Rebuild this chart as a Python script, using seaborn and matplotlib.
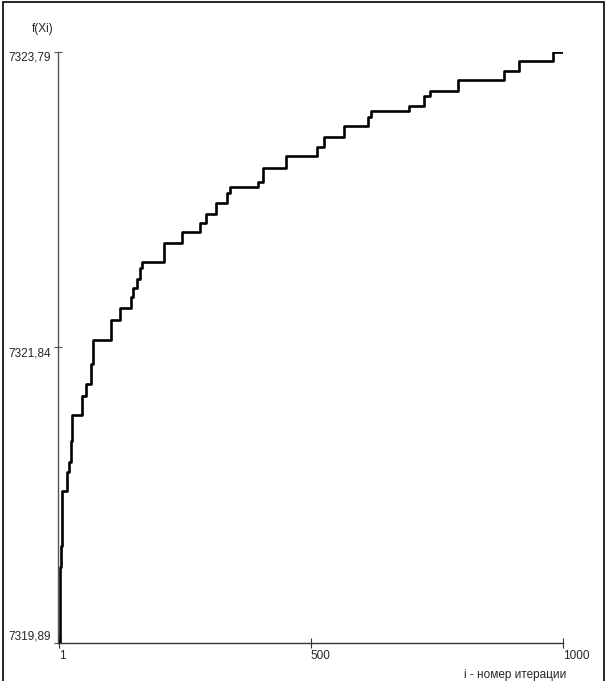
import numpy as np
import pandas as pd
import matplotlib
matplotlib.use("Agg")
import matplotlib.pyplot as plt
import seaborn as sns
from matplotlib.patches import Rectangle

# iteration where f(Xi) jumps, and the new value after the jump
iters = [1, 2, 4, 6, 16, 21, 25, 27, 46, 54, 64, 68, 104, 122, 143, 148, 156, 162, 166,
         210, 245, 281, 293, 312, 335, 340, 396, 406, 451, 512, 527, 567, 613, 619,
         696, 725, 737, 792, 884, 914, 980, 1000]
fvals = [7319.89, 7320.39, 7320.53, 7320.89, 7321.02, 7321.08, 7321.22, 7321.39, 7321.52,
         7321.60, 7321.73, 7321.89, 7322.02, 7322.10, 7322.17, 7322.23, 7322.29, 7322.36,
         7322.40, 7322.53, 7322.60, 7322.66, 7322.72, 7322.79, 7322.86, 7322.90, 7322.93,
         7323.02, 7323.10, 7323.16, 7323.23, 7323.30, 7323.36, 7323.40, 7323.43, 7323.50,
         7323.53, 7323.60, 7323.66, 7323.73, 7323.79, 7323.79]

xticks = [1, 500, 1000]
yticks = [7319.89, 7321.84, 7323.79]
ytick_labels = ["7319,89", "7321,84", "7323,79"]

df = pd.DataFrame({"i": iters, "f": fvals})

sns.set_style("white")
plt.rcParams["font.family"] = ["Liberation Sans", "DejaVu Sans"]
fs = 8.5

fig = plt.figure(figsize=(6.07, 6.81), dpi=100)
ax = fig.add_axes([58.3 / 607, (681 - 642.8) / 681, (562.7 - 58.3) / 607, (642.8 - 51.7) / 681])

sns.lineplot(data=df, x="i", y="f", ax=ax, color="black", linewidth=1.9,
             drawstyle="steps-post", estimator=None, sort=False)

ax.set_xlim(-0.4, 1000)
ax.set_ylim(7319.89, 7323.79)
ax.set_xlabel("")
ax.set_ylabel("")

for s in ["top", "right"]:
    ax.spines[s].set_visible(False)
ax.spines["left"].set_color("#555555")
ax.spines["bottom"].set_color("#333333")
ax.spines["left"].set_linewidth(1.0)
ax.spines["bottom"].set_linewidth(1.0)

ax.set_xticks(xticks)
ax.set_xticklabels([str(t) for t in xticks], fontsize=fs, ha="left")
ax.set_yticks(yticks)
ax.set_yticklabels(ytick_labels, fontsize=fs)
ax.tick_params(axis="x", bottom=True, direction="inout", length=7, width=0.8,
               color="#333333", pad=2)
ax.tick_params(axis="y", left=True, direction="inout", length=6, width=0.8,
               color="#555555", pad=2)
for lab in ax.get_yticklabels():
    lab.set_va("top")
ax.get_yticklabels()[0].set_va("bottom")

fig.text(43 / 607, 1 - 29 / 681, "f(Xi)", fontsize=fs, ha="center", va="center")
fig.text(566 / 607, 1 - 675 / 681, "i - номер итерации", fontsize=fs, ha="right", va="center")

# outer frame
fig.patches.append(Rectangle((2.5 / 607, -0.01), (604 - 2.5) / 607, 1.01 - 2.5 / 681,
                             transform=fig.transFigure, fill=False, edgecolor="black",
                             linewidth=1.2))

fig.savefig("out.png", dpi=100)
